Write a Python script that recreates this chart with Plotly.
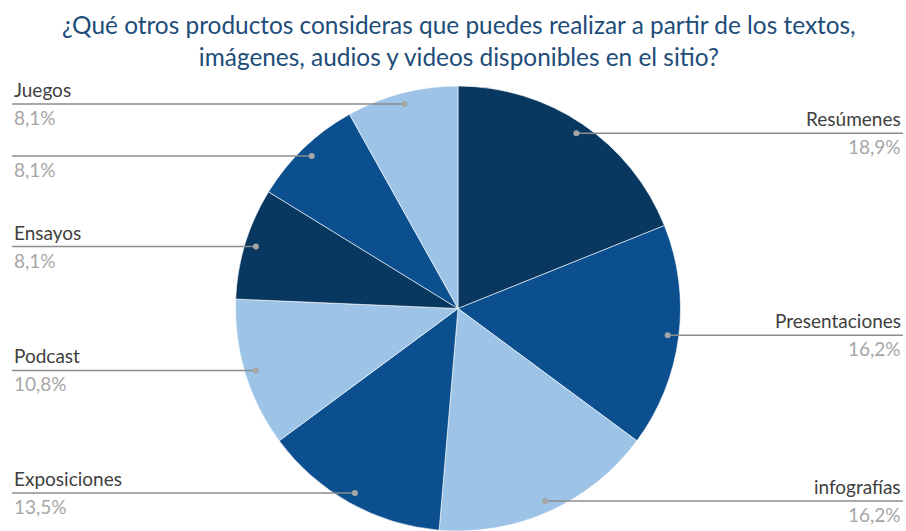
import math
import plotly.graph_objects as go

# ---- data ----
categories = ["Resúmenes", "Presentaciones", "infografías", "Exposiciones",
              "Podcast", "Ensayos", "", "Juegos"]
percent_values = [18.9, 16.2, 16.2, 13.5, 10.8, 8.1, 8.1, 8.1]

title_text = ("¿Qué otros productos consideras que puedes realizar a partir de los textos,"
              "<br>imágenes, audios y videos disponibles en el sitio?")

# ---- style ----
W, H = 906, 531
DARK, MID, LIGHT = "#08375F", "#0B4F8F", "#9DC3E6"
slice_colors = [DARK, MID, LIGHT, MID, LIGHT, DARK, MID, LIGHT]
FONT = "Lato"
NAME_COLOR = "#404040"
PCT_COLOR = "#A6A6A6"
LINE_COLOR = "#8C8C8C"
TITLE_COLOR = "#204C79"

# pie geometry (pixels)
CX, R = 458, 222.5
CY = H - R
dom_x = [(CX - R) / W, (CX + R) / W]
dom_y = [0, (2 * R) / H]

fig = go.Figure()
fig.add_trace(go.Pie(
    labels=categories, values=percent_values, sort=False,
    direction="clockwise", rotation=0,
    marker=dict(colors=slice_colors, line=dict(color="white", width=0.6)),
    textinfo="none", hoverinfo="label+percent", showlegend=False,
    domain=dict(x=dom_x, y=dom_y),
))

shapes, annotations = [], []
total = sum(percent_values)
cum = 0.0
for name, v in zip(categories, percent_values):
    mid = (cum + v / 2) / total * 2 * math.pi
    cum += v
    dx = CX + 0.95 * R * math.sin(mid)
    dy = CY - 0.95 * R * math.cos(mid)
    right = math.sin(mid) > 0
    x_end = 903 if right else 12
    shapes.append(dict(type="line", xref="x", yref="y", x0=dx, y0=dy, x1=x_end, y1=dy,
                       line=dict(color=LINE_COLOR, width=1.5), layer="above"))
    shapes.append(dict(type="circle", xref="x", yref="y", x0=dx - 3, x1=dx + 3,
                       y0=dy - 3, y1=dy + 3, fillcolor=PCT_COLOR,
                       line=dict(width=0), layer="above"))
    anchor = "right" if right else "left"
    if name:
        annotations.append(dict(x=x_end, y=dy - 1, xref="x", yref="y", text=name,
                                showarrow=False, xanchor=anchor, yanchor="bottom",
                                font=dict(family=FONT, size=19, color=NAME_COLOR)))
    pct = f"{v:.1f}".replace(".", ",") + "%"
    annotations.append(dict(x=x_end, y=dy, xref="x", yref="y", text=pct,
                            showarrow=False, xanchor=anchor, yanchor="top",
                            font=dict(family=FONT, size=19, color=PCT_COLOR)))

annotations.append(dict(x=459, y=8, xref="x", yref="y", text=title_text,
                        showarrow=False, xanchor="center", yanchor="top",
                        font=dict(family=FONT, size=24.4, color=TITLE_COLOR)))

fig.update_layout(
    width=W, height=H,
    margin=dict(l=0, r=0, t=0, b=0),
    paper_bgcolor="white", plot_bgcolor="rgba(0,0,0,0)",
    xaxis=dict(range=[0, W], visible=False, fixedrange=True),
    yaxis=dict(range=[H, 0], visible=False, fixedrange=True),
    shapes=shapes, annotations=annotations,
    font=dict(family=FONT),
)

fig.write_html("out.html", config={"displayModeBar": False},
               post_script="document.body.style.margin='0';"
                           "document.body.style.overflow='hidden';")
